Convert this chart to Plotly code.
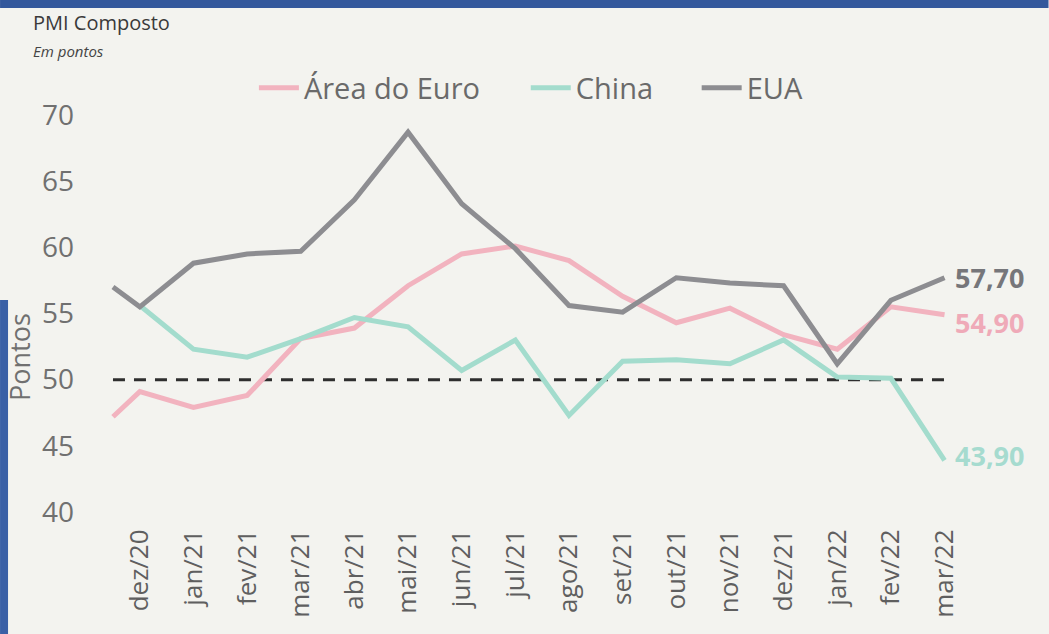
import plotly.graph_objects as go

# ---------------- data ----------------
tick_labels = ["dez/20", "jan/21", "fev/21", "mar/21", "abr/21", "mai/21", "jun/21",
               "jul/21", "ago/21", "set/21", "out/21", "nov/21", "dez/21", "jan/22",
               "fev/22", "mar/22"]
# first observation (nov/20) sits half a step before the first labelled month
x_pos = [-0.5] + list(range(len(tick_labels)))

euro = [47.2, 49.1, 47.9, 48.8, 53.1, 53.9, 57.1, 59.5, 60.1, 59.0, 56.3, 54.3, 55.4,
        53.4, 52.3, 55.5, 54.9]
china = [None, 55.6, 52.3, 51.7, 53.1, 54.7, 54.0, 50.7, 53.0, 47.3, 51.4, 51.5, 51.2,
         53.0, 50.2, 50.1, 43.9]
eua = [57.0, 55.5, 58.8, 59.5, 59.7, 63.6, 68.7, 63.3, 59.9, 55.6, 55.1, 57.7, 57.3,
       57.1, 51.2, 56.0, 57.7]
end_labels = ["54,90", "43,90", "57,70"]
ref_level = 50

# ---------------- layout geometry ----------------
W, H = 1049, 634
L, T = 80, 115
px_per = 832 / 15.5
x_range = [-0.5 - (113 - L) / px_per, 15.4]
plot_w = (x_range[1] - x_range[0]) * px_per
R = W - L - plot_w
plot_h = 397
B = H - T - plot_h

def px_x(px):
    return (px - L) / plot_w

def px_y(py):
    return (T + plot_h - py) / plot_h

FONT = "Open Sans"
PINK, TEAL, GRAY = "#f2b3bf", "#a3dccd", "#8d8d91"

fig = go.Figure()
series = [("Área do Euro", euro, PINK, "legend"),
          ("China", china, TEAL, "legend2"),
          ("EUA", eua, GRAY, "legend3")]
for name, vals, col, lg in series:
    fig.add_trace(go.Scatter(x=x_pos, y=vals, mode="lines", name=name,
                             line=dict(color=col, width=5), legend=lg,
                             cliponaxis=False, connectgaps=False))

# reference line at 50
fig.add_shape(type="line", xref="x", yref="y", x0=x_pos[0], x1=x_pos[-1],
              y0=ref_level, y1=ref_level,
              line=dict(color="#2e2e2e", width=3, dash="12px,9px"), layer="below")

# end labels
label_cols = ["#efaab8", "#a6dbcf", "#76767a"]
yshifts = [-8, 5, 0]
for (name, vals, col, lg), txt, lc, ys in zip(series, end_labels, label_cols, yshifts):
    fig.add_annotation(x=x_pos[-1], y=vals[-1], xref="x", yref="y", text=txt,
                       showarrow=False, xanchor="left", yanchor="middle",
                       xshift=8, yshift=ys,
                       font=dict(family=FONT, size=27, color=lc, weight="bold"))

# titles
fig.add_annotation(x=px_x(31), y=px_y(22), xref="paper", yref="paper",
                   text="PMI Composto", showarrow=False, xanchor="left", yanchor="middle",
                   font=dict(family=FONT, size=20, color="#3a3a3a"))
fig.add_annotation(x=px_x(31), y=px_y(51), xref="paper", yref="paper",
                   text="<i>Em pontos</i>", showarrow=False, xanchor="left", yanchor="middle",
                   font=dict(family=FONT, size=15, color="#444444"))
fig.add_annotation(x=px_x(19), y=px_y(357), xref="paper", yref="paper",
                   text="Pontos", showarrow=False, textangle=-90,
                   xanchor="center", yanchor="middle",
                   font=dict(family=FONT, size=27, color="#707070"))

# blue page frame pieces
fig.add_shape(type="rect", xref="paper", yref="paper", x0=px_x(0), x1=px_x(W),
              y0=px_y(8), y1=px_y(0), fillcolor="#33589c", line=dict(width=0), layer="below")
fig.add_shape(type="rect", xref="paper", yref="paper", x0=px_x(0), x1=px_x(8),
              y0=px_y(H), y1=px_y(300), fillcolor="#3a60a6", line=dict(width=0), layer="below")

leg_font = dict(family=FONT, size=29, color="#6a6a6a")
def leg(xpx):
    return dict(orientation="h", x=px_x(xpx), xanchor="left", y=px_y(88),
                yanchor="middle", font=leg_font, bgcolor="rgba(0,0,0,0)",
                itemwidth=40, borderwidth=0)

fig.update_layout(
    width=W, height=H,
    margin=dict(l=L, r=R, t=T, b=B, pad=0),
    paper_bgcolor="#f3f3ef", plot_bgcolor="#f3f3ef",
    showlegend=True,
    legend=leg(254), legend2=leg(526), legend3=leg(697),
    font=dict(family=FONT),
)
fig.update_xaxes(range=x_range, tickmode="array", tickvals=list(range(len(tick_labels))),
                 ticktext=tick_labels, tickangle=-90, showgrid=False, zeroline=False,
                 showline=False, ticks="outside", ticklen=6, tickcolor="rgba(0,0,0,0)",
                 automargin=False,
                 tickfont=dict(family=FONT, size=26, color="#5f5f5f"))
fig.update_yaxes(range=[40, 70], tickvals=[40, 45, 50, 55, 60, 65, 70], showgrid=False,
                 zeroline=False, showline=False, ticks="", automargin=False,
                 ticklabelstandoff=5,
                 tickfont=dict(family=FONT, size=28, color="#707070"))

fig.write_html("out.html", config={"displayModeBar": False},
               post_script="document.body.style.margin='0';document.body.style.padding='0';")
